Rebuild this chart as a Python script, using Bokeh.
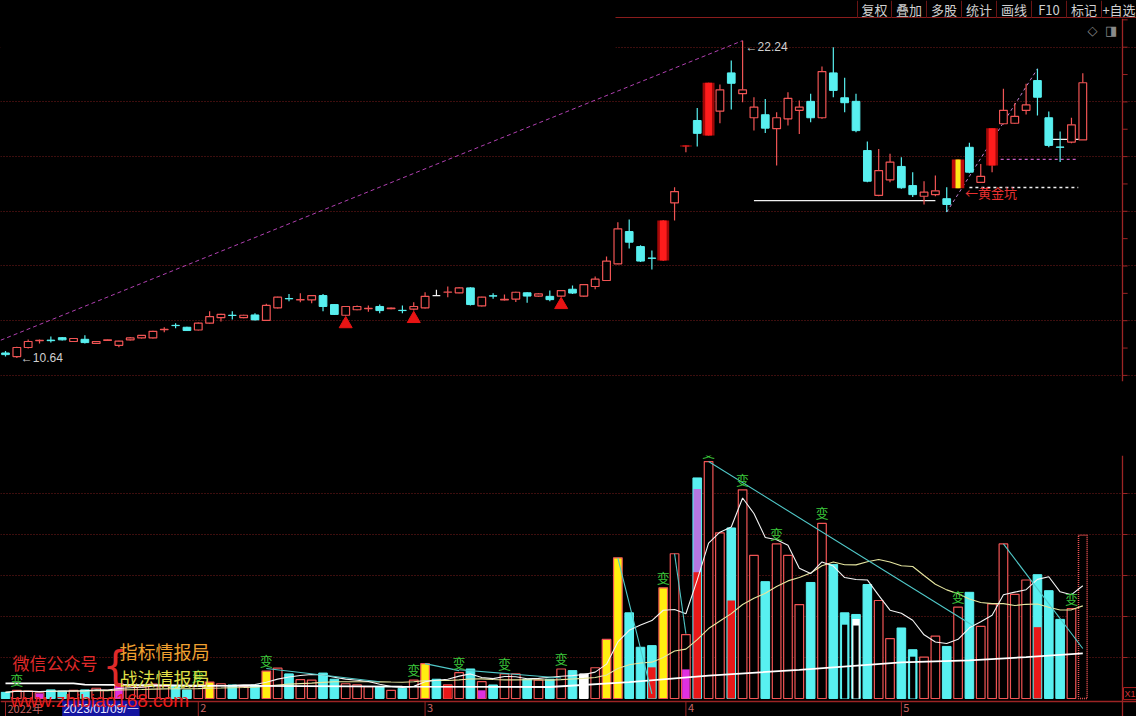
import numpy as np
from bokeh.plotting import figure
from bokeh.layouts import column
from bokeh.models import Range1d, FixedTicker, BoxAnnotation, Label, ColumnDataSource, Grid, Span
from bokeh.core.properties import value
from bokeh.embed import file_html
from bokeh.resources import INLINE

# ---------------- data ----------------
opens = [10.82, 10.69, 11.02, 11.27, 11.29, 11.38, 11.24, 11.32, 11.17, 11.28,
         11.10, 11.30, 11.37, 11.37, 11.67, 11.83, 11.76, 11.66, 11.91, 12.11,
         12.20, 12.11, 12.21, 12.01, 12.47, 12.81, 12.76, 12.76, 12.92, 12.59,
         12.20, 12.40, 12.44, 12.52, 12.44, 12.38, 12.42, 12.47, 12.92, 13.04,
         13.02, 13.20, 12.54, 12.91, 12.76, 12.79, 13.02, 12.90, 12.89, 12.90,
         13.15, 12.90, 13.25, 13.47, 14.08, 15.26, 14.71, 14.29, 14.20, 16.31,
         18.37, 19.32, 18.77, 19.66, 21.06, 20.30, 19.42, 19.53, 19.02, 19.38,
         19.69, 20.02, 19.42, 21.06, 20.15, 20.02, 18.22, 16.58, 17.15, 17.64,
         16.94, 16.55, 16.61, 16.46, 16.84, 18.34, 17.06, 17.67, 19.20, 19.22,
         19.69, 20.78, 19.42, 18.35, 18.53, 18.61]
highs = [10.89, 11.05, 11.31, 11.31, 11.42, 11.40, 11.37, 11.47, 11.26, 11.31,
         11.27, 11.40, 11.48, 11.63, 11.76, 11.91, 11.78, 11.93, 12.35, 12.25,
         12.35, 12.22, 12.27, 12.62, 12.88, 12.98, 13.00, 12.94, 12.98, 12.61,
         12.54, 12.56, 12.56, 12.59, 12.48, 12.56, 12.67, 13.04, 13.13, 13.25,
         13.22, 13.22, 12.88, 13.00, 12.96, 13.06, 13.04, 13.00, 13.10, 13.12,
         13.29, 13.34, 13.62, 14.35, 15.60, 15.70, 14.76, 14.57, 15.68, 16.88,
         18.41, 19.78, 20.70, 20.64, 21.51, 22.24, 20.17, 20.11, 19.62, 20.35,
         20.05, 20.30, 21.29, 22.00, 20.88, 20.30, 18.55, 18.28, 18.10, 17.98,
         17.43, 17.10, 17.31, 16.88, 17.89, 18.51, 17.73, 19.04, 20.48, 19.95,
         20.66, 21.21, 19.65, 18.92, 19.42, 21.05]
lows = [10.69, 10.64, 10.98, 11.17, 11.20, 11.28, 11.22, 11.17, 11.15, 11.27,
        11.03, 11.28, 11.35, 11.35, 11.58, 11.72, 11.62, 11.64, 11.89, 11.97,
        12.04, 12.09, 12.01, 11.99, 12.45, 12.71, 12.67, 12.64, 12.35, 12.21,
        12.18, 12.38, 12.33, 12.27, 12.42, 12.27, 12.37, 12.45, 12.92, 12.86,
        13.00, 12.56, 12.52, 12.80, 12.74, 12.68, 12.66, 12.88, 12.71, 12.88,
        12.98, 12.88, 13.15, 13.45, 14.06, 14.64, 14.15, 13.87, 14.18, 15.66,
        18.16, 18.37, 18.77, 19.22, 19.72, 19.99, 18.95, 18.86, 17.67, 19.14,
        18.83, 19.26, 19.38, 20.17, 19.62, 18.89, 17.06, 16.55, 17.06, 16.82,
        16.52, 16.25, 16.55, 15.97, 16.84, 17.39, 17.03, 17.43, 19.17, 19.20,
        19.54, 19.50, 18.34, 17.80, 18.49, 18.61]
closes = [10.76, 11.02, 11.24, 11.28, 11.27, 11.30, 11.35, 11.20, 11.24, 11.30,
          11.25, 11.37, 11.46, 11.61, 11.68, 11.82, 11.64, 11.91, 12.15, 12.23,
          12.19, 12.20, 12.03, 12.56, 12.86, 12.80, 12.77, 12.92, 12.52, 12.23,
          12.52, 12.52, 12.45, 12.37, 12.46, 12.37, 12.52, 12.89, 12.92, 13.05,
          13.20, 12.59, 12.86, 12.90, 12.78, 13.04, 12.90, 12.98, 12.77, 13.10,
          13.01, 13.32, 13.52, 14.18, 15.36, 14.87, 14.18, 14.28, 15.66, 16.72,
          18.41, 18.85, 20.70, 20.44, 20.68, 20.44, 19.81, 19.04, 19.42, 20.13,
          19.81, 19.42, 21.11, 20.42, 19.97, 18.95, 17.10, 17.49, 17.80, 16.86,
          16.61, 16.70, 16.75, 16.25, 17.89, 17.43, 17.28, 19.04, 19.69, 19.47,
          19.89, 20.17, 18.41, 18.34, 19.16, 20.70]
volumes = [0.15, 0.20, 0.18, 0.14, 0.21, 0.18, 0.20, 0.21, 0.25, 0.20,
           0.36, 0.30, 0.28, 0.35, 0.30, 0.32, 0.21, 0.30, 0.40, 0.36,
           0.33, 0.29, 0.33, 0.67, 0.74, 0.60, 0.46, 0.45, 0.62, 0.47,
           0.36, 0.33, 0.29, 0.29, 0.20, 0.25, 0.45, 0.85, 0.47, 0.33,
           0.63, 0.72, 0.41, 0.33, 0.60, 0.60, 0.47, 0.45, 0.47, 0.72,
           0.68, 0.60, 0.75, 1.44, 3.43, 2.09, 1.25, 1.29, 2.70, 3.53,
           1.56, 5.38, 5.78, 4.04, 4.16, 5.09, 3.49, 2.85, 3.77, 3.49,
           2.29, 2.83, 4.27, 3.27, 2.09, 2.05, 2.78, 2.39, 1.46, 1.72,
           1.19, 1.01, 1.52, 1.27, 2.23, 2.59, 1.76, 2.31, 3.77, 2.54,
           2.89, 3.02, 2.63, 1.93, 2.19, 3.98]

price_ticks = list(range(10, 24))
price_grid = [10, 12, 14, 16, 18, 20, 22]
vol_ticks = [1, 2, 3, 4, 5]

month_ticks = [0, 17, 37, 60, 79]
month_labels = ["2022年", "2", "3", "4", "5"]
crosshair_idx = 5
crosshair_label = "2023/01/09/一"

solid_red_idx = [58, 60, 62, 87]
gold_pit_idx = [84]
buy_signal_idx = [30, 36, 49]

yellow_vol_idx = [18, 23, 37, 53, 54, 58]
white_vol_idx = [51]
vol_overlay_idx = [3, 10, 39, 42, 57, 60, 61, 61, 64, 75, 91]
vol_overlay_top = [0.12, 0.36, 0.33, 0.20, 0.76, 0.71, 5.11, 3.08, 2.39, 1.94, 1.74]
vol_overlay_kind = ["m", "m", "r", "m", "r", "m", "p", "r", "r", "w", "r"]
vol_hollow_idx = [74, 75, 80]
vol_hollow_top = [1.80, 1.78, 1.02]
bian_idx = [1, 17, 23, 36, 40, 44, 49, 58, 62, 65, 68, 72, 84, 94]

long_ma_idx = [0, 6, 7, 20, 35, 48, 55, 62, 70, 79, 85, 90, 95]
long_ma_val = [0.37, 0.37, 0.34, 0.31, 0.29, 0.28, 0.40, 0.56, 0.70, 0.88, 0.93, 1.01, 1.10]

vt_x0 = [23, 37, 40, 54, 59, 62, 88]
vt_y0 = [0.73, 0.85, 0.70, 3.43, 3.53, 5.78, 3.77]
vt_x1 = [33, 40, 49, 57, 60, 85.3, 95]
vt_y1 = [0.41, 0.68, 0.50, 0.11, 1.58, 1.78, 1.22]

trend_idx = [-1, 65]
trend_val = [11.19, 22.24]
lvl_val = [16.39, 18.63, 16.87, 17.90]
lvl_x0 = [66, 92.3, 85, 86.7]
lvl_x1 = [82, 95, 94.6, 94.6]
lvl_color = ["#f0f0f0", "#f0f0f0", "#f0f0f0", "#c060c0"]
lvl_dash = ["solid", "solid", "3 3", "3 3"]

toolbar_text = ["复权", "叠加", "多股", "统计", "画线", "F10", "标记", "+自选"]
toolbar_center = [874, 908.5, 943.5, 978.5, 1013.5, 1048.5, 1083.5, 1118.5]
toolbar_sep = [857, 891, 926, 961, 996, 1031, 1066, 1101]

# ---------------- styles ----------------
UP = "#f05454"
DN = "#58f0f0"
GRID = "#7a1c1c"
AXIS = "#9c2424"
BG = "#000000"
CJK = "Noto Sans CJK SC"
W = 1136

N = len(opens)
x = np.arange(N)
o = np.array(opens); c = np.array(closes); h = np.array(highs); l = np.array(lows)
v = np.array(volumes)

X_LEFT, X_AXIS, X_RIGHT = -0.441, 98.5, 99.735
XR = Range1d(X_LEFT, X_RIGHT)
TICK_LEN = 0.45


def base_fig(height, yr, **kw):
    f = figure(width=W, height=height, x_range=XR, y_range=yr, output_backend="svg",
               toolbar_location=None, x_axis_location=None, y_axis_location=None,
               min_border_left=0, min_border_right=0, background_fill_color=BG,
               border_fill_color=BG, outline_line_color=None, **kw)
    f.grid.visible = False
    return f


def add_right_axis(f, ticks, grid_ticks):
    f.add_layout(Grid(dimension=1, ticker=FixedTicker(ticks=grid_ticks),
                      grid_line_color=GRID, grid_line_dash="1 2"))
    f.add_layout(Span(location=X_AXIS, dimension="height", line_color=AXIS, line_width=1.3))
    f.segment(x0=[X_AXIS] * len(ticks), y0=ticks, x1=[X_AXIS + TICK_LEN] * len(ticks), y1=ticks,
              line_color=AXIS, line_width=1)


# ================= toolbar strip =================
tb = figure(width=W, height=18, x_range=Range1d(0, W), y_range=Range1d(0, 18),
            output_backend="svg", toolbar_location=None, x_axis_location=None,
            y_axis_location=None, min_border=0, background_fill_color=BG,
            border_fill_color=BG, outline_line_color=None)
tb.grid.visible = False
tb.segment(x0=[615], y0=[0.8], x1=[W], y1=[0.8], line_color="#8a1c1c", line_width=1.6)
tb.segment(x0=toolbar_sep, y0=[0] * len(toolbar_sep), x1=toolbar_sep, y1=[18] * len(toolbar_sep),
           line_color="#6a1414", line_width=1)
tb.text(x=toolbar_center, y=[9.5] * len(toolbar_center), text=toolbar_text, text_font=value(CJK),
        text_font_size="13px", text_color="#d0d0d0", text_align="center", text_baseline="middle")

# ================= price panel =================
p1 = base_fig(422, Range1d(9.777, 23.049), min_border_top=0, min_border_bottom=59)
add_right_axis(p1, price_ticks, price_grid)

wick_col = []
for i in range(N):
    if c[i] > o[i]:
        wick_col.append(UP)
    elif c[i] < o[i]:
        wick_col.append(DN)
    else:
        wick_col.append("#f0f0f0")

p1.line(trend_idx, trend_val, line_color="#b040b0", line_dash="4 3", line_width=1)
p1.line([83, 91], [lows[83], highs[91]], line_color="#c080d0", line_dash="3 3", line_width=1)
for yv, a, b, col, dsh in zip(lvl_val, lvl_x0, lvl_x1, lvl_color, lvl_dash):
    p1.line([a, b], [yv, yv], line_color=col, line_dash=dsh, line_width=1.3)

wsrc = ColumnDataSource(dict(x=x, lo=l, hi=h, col=wick_col))
p1.segment(x0="x", y0="lo", x1="x", y1="hi", line_color="col", line_width=1.2, source=wsrc)

special = set(solid_red_idx) | set(gold_pit_idx)
norm = [i for i in range(N) if i not in special]
up_i = [i for i in norm if c[i] > o[i]]
dn_i = [i for i in norm if c[i] < o[i]]
fl_i = [i for i in norm if c[i] == o[i]]
p1.vbar(x=up_i, width=0.68, top=np.maximum(o, c)[up_i], bottom=np.minimum(o, c)[up_i],
        fill_color=BG, line_color=UP, line_width=1.2)
p1.vbar(x=dn_i, width=0.68, top=o[dn_i], bottom=c[dn_i], fill_color=DN, line_color=DN)
p1.vbar(x=fl_i, width=0.68, top=o[fl_i], bottom=c[fl_i], fill_color="#f0f0f0",
        line_color="#f0f0f0", line_width=1.3)
p1.vbar(x=solid_red_idx, width=1.05, top=c[solid_red_idx], bottom=o[solid_red_idx],
        fill_color="#a00808", line_color=None)
p1.vbar(x=solid_red_idx, width=0.6, top=c[solid_red_idx], bottom=o[solid_red_idx],
        fill_color="#ff1c1c", line_color=None)
p1.vbar(x=gold_pit_idx, width=1.1, top=c[gold_pit_idx], bottom=o[gold_pit_idx],
        fill_color="#c00c0c", line_color=None)
p1.vbar(x=gold_pit_idx, width=0.45, top=c[gold_pit_idx], bottom=o[gold_pit_idx],
        fill_color="#ffe818", line_color=None)

p1.scatter(x=buy_signal_idx, y=l[buy_signal_idx] - 0.3, marker="triangle", size=13,
           fill_color="#e81414", line_color="#e81414")

imax = int(np.argmax(h)); imin = int(np.argmin(l))
p1.text(x=[imax], y=[h[imax]], text=[f"←{h[imax]:.2f}"], text_font=value("Liberation Sans"),
        text_font_size="12px", text_color="#d0d0d0", text_baseline="middle",
        x_offset=3, y_offset=6)
p1.text(x=[imin], y=[l[imin]], text=[f"←{l[imin]:.2f}"], text_font=value("Liberation Sans"),
        text_font_size="12px", text_color="#d0d0d0", text_baseline="middle",
        x_offset=4, y_offset=0)
p1.text(x=gold_pit_idx, y=l[gold_pit_idx], text=["←黄金坑"], text_font=value(CJK),
        text_font_size="13px", text_color="#e83030", text_baseline="middle",
        x_offset=7, y_offset=4)

p1.add_layout(BoxAnnotation(left=X_LEFT, right=53.8, bottom=21.6, top=23.049,
                            fill_color=BG, fill_alpha=1.0, line_color=None))
p1.add_layout(Label(x=95.85, y=22.61, text="◇", text_font="DejaVu Sans", text_font_size="13px",
                    text_color="#8a8a8a", text_align="center", text_baseline="middle"))
p1.add_layout(Label(x=97.5, y=22.61, text="◨", text_font="DejaVu Sans", text_font_size="13px",
                    text_color="#8a8a8a", text_align="center", text_baseline="middle"))

# ================= volume panel =================
V_BOTTOM = -0.439
V_AXIS = -0.073
p2 = base_fig(276, Range1d(V_BOTTOM, 5.927), min_border_top=15, min_border_bottom=0)
add_right_axis(p2, vol_ticks, vol_ticks)

last = N - 1
vup = [i for i in range(N - 1) if c[i] > o[i] and i not in yellow_vol_idx and i not in white_vol_idx]
vdn = [i for i in range(N - 1) if c[i] <= o[i] and i not in yellow_vol_idx and i not in white_vol_idx]
BW = 0.76
p2.vbar(x=vup, width=BW, top=v[vup], bottom=0, fill_color=BG, line_color=UP, line_width=1.2)
p2.vbar(x=vdn, width=BW, top=v[vdn], bottom=0, fill_color=DN, line_color=DN)
p2.vbar(x=yellow_vol_idx, width=BW, top=v[yellow_vol_idx], bottom=0, fill_color="#ffee10",
        line_color=UP, line_width=1.2)
p2.vbar(x=white_vol_idx, width=BW, top=v[white_vol_idx], bottom=0, fill_color="#ffffff",
        line_color="#ffffff")
p2.vbar(x=[last], width=BW, top=v[[last]], bottom=0, fill_color=BG, line_color=UP,
        line_dash="1 1", line_width=1.5)

kind_col = {"m": "#e030e0", "r": "#e81818", "p": "#b478e0", "w": "#ffffff"}
p2.vbar(x=vol_overlay_idx, width=BW - 0.1, top=vol_overlay_top, bottom=0,
        fill_color=[kind_col[k] for k in vol_overlay_kind], line_color=None)
p2.vbar(x=vol_hollow_idx, width=0.46, top=vol_hollow_top, bottom=0, fill_color=BG, line_color=None)


def moving_avg(arr, n):
    return np.array([arr[max(0, i - n + 1):i + 1].mean() for i in range(len(arr))])


p2.line(x, moving_avg(v, 20), line_color="#e6e6a0", line_width=1.1)
p2.line(x, moving_avg(v, 5), line_color="#f4f4f4", line_width=1.1)
p2.line(long_ma_idx, long_ma_val, line_color="#ffffff", line_width=1.8)
p2.segment(x0=vt_x0, y0=vt_y0, x1=vt_x1, y1=vt_y1, line_color="#50c8c8", line_width=1.1)

p2.text(x=bian_idx, y=v[bian_idx], text=["变"] * len(bian_idx), text_font=value(CJK),
        text_font_size="13px", text_color="#3cc83c", text_align="center",
        text_baseline="bottom", y_offset=-1)

# bottom date axis (drawn in the panel)
p2.add_layout(Span(location=V_AXIS, dimension="width", line_color=AXIS, line_width=1.3))
p2.segment(x0=month_ticks, y0=[V_AXIS] * len(month_ticks), x1=month_ticks,
           y1=[V_BOTTOM] * len(month_ticks), line_color=AXIS, line_width=1)
p2.text(x=month_ticks, y=[V_AXIS] * len(month_ticks), text=month_labels, text_font=value(CJK),
        text_font_size="11px", text_color="#c86464", text_baseline="middle", x_offset=2,
        y_offset=7)

# overlay texts: crosshair date box first, watermark on top
p2.add_layout(Label(x=crosshair_idx, y=V_BOTTOM, text=crosshair_label, text_font="Liberation Sans",
                    text_font_size="12px", text_color="#e8e8ff", text_baseline="bottom",
                    background_fill_color="#1414a0", padding=1))
p2.add_layout(Label(x=0.62, y=0.878, text="微信公众号", text_font=CJK, text_font_size="17px",
                    text_color="#e02a2a", text_baseline="middle"))
p2.add_layout(Label(x=8.55, y=0.80, text="{", text_font="DejaVu Sans", text_font_size="40px",
                    text_color="#e02a2a", text_baseline="middle"))
p2.add_layout(Label(x=10.05, y=1.17, text="指标情报局", text_font=CJK, text_font_size="18px",
                    text_color="#f0a030", text_baseline="middle"))
p2.add_layout(Label(x=10.05, y=0.51, text="战法情报局", text_font=CJK, text_font_size="18px",
                    text_color="#e0e048", text_baseline="middle"))
p2.add_layout(Label(x=0.44, y=-0.05, text="www.zhibiao168.com", text_font="Liberation Sans",
                    text_font_size="19px", text_color="#e81c1c", text_baseline="middle"))
p2.add_layout(Label(x=X_AXIS, y=0.12, text="X1", text_font="Liberation Sans", text_font_size="9px",
                    text_color="#d03030", text_baseline="middle", border_line_color="#b02020",
                    x_offset=1, padding=1))

layout = column(tb, p1, p2, spacing=0)
html = file_html(layout, INLINE, title="chart")
html = html.replace("<head>", "<head><style>html,body{margin:0;padding:0;background:#000;overflow:hidden;}</style>", 1)
open("out.html", "w").write(html)
